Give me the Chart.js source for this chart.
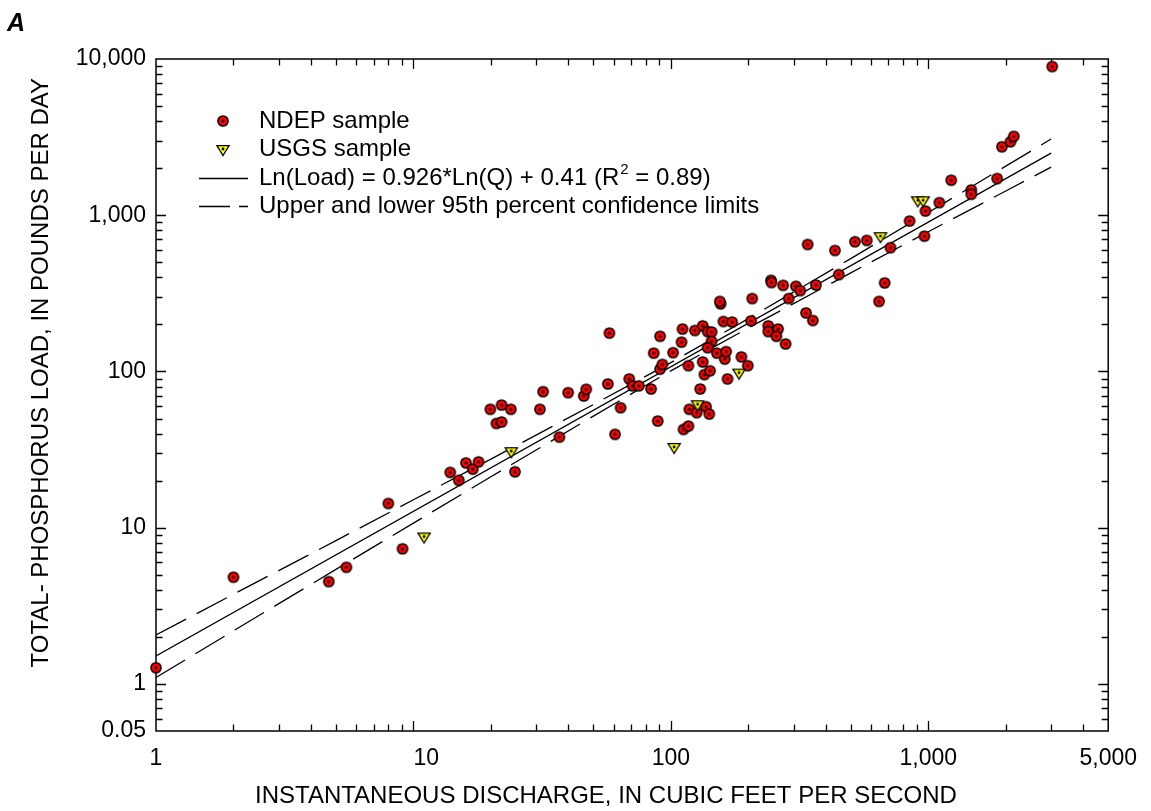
<!DOCTYPE html>
<html><head><meta charset="utf-8">
<script src="https://cdn.jsdelivr.net/npm/chart.js@4.4.0/dist/chart.umd.min.js"></script>
<style>html,body{margin:0;padding:0;background:#fff;}#wrap{width:1151px;height:811px;}</style>
</head><body>
<div id="wrap"><canvas id="c" width="1151" height="811"></canvas></div>
<script>
// ---- data ----
const ndepQ = [1.0, 2.0, 4.69, 5.49, 7.99, 9.07, 13.9, 15.0, 16.0, 17.0, 17.9, 24.8, 19.9, 22.0, 23.9, 21.0, 22.0,
  31.0, 31.9, 36.9, 39.9, 45.9, 46.9, 56.9, 57.7, 60.7, 63.8, 68.9, 71.0, 75.1, 83.8, 88.9, 85.8, 90.8, 90.8, 92.7,
  102, 110, 111, 112, 117, 117, 118, 124, 126, 130, 133, 133, 135, 137, 139, 142, 141, 144, 144, 139, 151, 156, 155,
  160, 162, 164, 166, 173, 188, 199, 207, 205, 239, 239, 261, 257, 279, 245, 246, 273, 287, 306, 318, 340, 366, 335,
  356, 434, 449, 519, 577, 713, 677, 644, 846, 975, 1104, 966, 1228, 1469, 1469, 1852, 1932, 2086, 2148, 3030];
const ndepLoad = [1.27, 4.82, 4.52, 5.58, 14.3, 7.33, 22.6, 20.1, 26.0, 23.7, 26.4, 22.8, 57.3, 61.0, 57.3, 46.5, 47.5,
  57.3, 74.3, 38.0, 73.2, 69.7, 76.9, 83.2, 176, 39.6, 58.6, 89.6, 80.9, 80.9, 77.3, 48.2, 131, 168, 103.5, 111,
  132, 154, 187, 42.6, 44.7, 109, 57.3, 183, 54.5, 77.3, 196, 115, 95.5, 59.5, 180, 101, 53.4, 179, 156, 142, 131, 271, 281,
  209, 120, 134, 89.6, 207, 124, 109, 293, 211, 196, 180, 187, 168, 150, 383, 371, 356, 293, 351, 329, 650, 358, 237,
  212, 595, 417, 677, 690, 620, 369, 281, 918, 1064, 1205, 735, 1675, 1452, 1362, 1718, 2742, 2952, 3199, 8950];
const usgsQ = [11.0, 24.0, 103, 127, 184, 652, 910, 955];
const usgsLoad = [8.79, 30.9, 32.9, 61.7, 98.4, 735, 1247, 1247];
const fitQ = [1, 3000];
const fitLoad = [1.51, 2500];
const bandQ = [1, 2, 5, 10, 20, 50, 100, 200, 500, 1000, 2000, 3000];
const upperLoad = [2.06, 3.75, 8.27, 15.1, 27.5, 61.4, 114, 218, 528, 1042, 2061, 3073];
const lowerLoad = [1.10, 2.19, 5.41, 10.7, 21.2, 51.8, 101, 190, 428, 784, 1430, 2032];
const xTickValues = [1, 10, 100, 1000, 5000];
const xTickLabels = ['1', '    10', '100', '1,000', '5,000'];
const yTickValues = [0.5, 1, 10, 100, 1000, 10000];
const yTickLabels = ['0.05', '1', '10', '100', '1,000', '10,000'];
const legendLabels = ['NDEP sample', 'USGS sample', 'Ln(Load) = 0.926*Ln(Q) + 0.41 (R', 'Upper and lower 95th percent confidence limits'];
const xTitle = 'INSTANTANEOUS DISCHARGE, IN CUBIC FEET PER SECOND';
const yTitle = 'TOTAL- PHOSPHORUS LOAD, IN POUNDS PER DAY';
const panelLabel = 'A';

const FONT = '"Liberation Sans", Arial, Helvetica, sans-serif';
Chart.defaults.font.family = FONT;
Chart.defaults.color = '#000';

function pairs(xs, ys) { return xs.map((x, i) => ({x: x, y: ys[i]})); }

function circleMarker() {
  const c = document.createElement('canvas'); c.width = 16; c.height = 16;
  const g = c.getContext('2d');
  g.beginPath(); g.arc(8, 8, 5.1, 0, Math.PI * 2);
  g.fillStyle = '#ff0000'; g.fill();
  g.lineWidth = 1.5; g.strokeStyle = '#000'; g.stroke();
  g.beginPath(); g.arc(8, 8, 1.5, 0, Math.PI * 2); g.fillStyle = '#000'; g.fill();
  return c;
}
function triMarker() {
  const c = document.createElement('canvas'); c.width = 16; c.height = 16;
  const g = c.getContext('2d');
  g.beginPath(); g.moveTo(1.9, 4.6); g.lineTo(14.1, 4.6); g.lineTo(8, 14.6); g.closePath();
  g.fillStyle = '#ffff00'; g.fill();
  g.lineWidth = 1.3; g.strokeStyle = '#000'; g.lineJoin = 'miter'; g.stroke();
  g.beginPath(); g.arc(8, 8, 1.4, 0, Math.PI * 2); g.fillStyle = '#000'; g.fill();
  return c;
}
const circImg = circleMarker();
const triImg = triMarker();

const xMinor = [], yMinor = [];
[1, 10, 100, 1000].forEach(d => { for (let k = 2; k <= 9; k++) { if (d * k < 5000) xMinor.push(d * k); } });
[0.1, 1, 10, 100, 1000].forEach(d => { for (let k = 2; k <= 9; k++) { const v = d * k; if (v > 0.5 && v < 10000) yMinor.push(v); } });

const framePlugin = {
  id: 'frame',
  beforeDatasetsDraw(chart) {
    const {ctx, chartArea: a, scales: {x, y}} = chart;
    ctx.save();
    ctx.strokeStyle = '#000';
    ctx.lineWidth = 1.5;
    ctx.strokeRect(a.left, a.top, a.right - a.left, a.bottom - a.top);
    ctx.lineWidth = 1.3;
    ctx.beginPath();
    const tick = (v, len, horiz) => {
      if (horiz) {
        const px = Math.round(x.getPixelForValue(v)) + 0.5;
        ctx.moveTo(px, a.bottom); ctx.lineTo(px, a.bottom - len);
        ctx.moveTo(px, a.top); ctx.lineTo(px, a.top + len);
      } else {
        const py = Math.round(y.getPixelForValue(v)) + 0.5;
        ctx.moveTo(a.left, py); ctx.lineTo(a.left + len, py);
        ctx.moveTo(a.right, py); ctx.lineTo(a.right - len, py);
      }
    };
    [10, 100, 1000].forEach(v => tick(v, 10, true));
    xMinor.forEach(v => tick(v, 6.5, true));
    [1, 10, 100, 1000].forEach(v => tick(v, 10, false));
    yMinor.forEach(v => tick(v, 6.5, false));
    ctx.stroke();
    ctx.restore();
  },
  afterDraw(chart) {
    const {ctx} = chart;
    ctx.save();
    ctx.fillStyle = '#000';
    ctx.font = 'italic bold 25px ' + FONT;
    ctx.textBaseline = 'alphabetic';
    ctx.fillText(panelLabel, 7, 31);
    // axis titles
    ctx.font = '24px ' + FONT;
    ctx.textAlign = 'left';
    ctx.fillText(xTitle, 255, 803);
    ctx.save();
    ctx.translate(48, 78);
    ctx.rotate(-Math.PI / 2);
    ctx.textAlign = 'right';
    ctx.fillText(yTitle, 0, 0);
    ctx.restore();
    // legend
    const lx = 199, lx2 = 248, tx = 259;
    const rows = [121, 149, 178, 206];
    ctx.drawImage(circImg, 223 - 8, rows[0] - 8);
    ctx.drawImage(triImg, 223 - 8, rows[1] - 8);
    ctx.strokeStyle = '#000'; ctx.lineWidth = 1.3;
    ctx.beginPath(); ctx.moveTo(lx, rows[2] + 0.5); ctx.lineTo(lx2, rows[2] + 0.5); ctx.stroke();
    ctx.setLineDash([31, 9]);
    ctx.beginPath(); ctx.moveTo(lx, rows[3] + 0.5); ctx.lineTo(lx2, rows[3] + 0.5); ctx.stroke();
    ctx.setLineDash([]);
    ctx.font = '24px ' + FONT;
    ctx.textBaseline = 'middle';
    ctx.textAlign = 'left';
    ctx.fillText(legendLabels[0], tx, rows[0]);
    ctx.fillText(legendLabels[1], tx, rows[1]);
    ctx.fillText(legendLabels[2], tx, rows[2]);
    const w = ctx.measureText(legendLabels[2]).width;
    ctx.font = '15px ' + FONT;
    ctx.fillText('2', tx + w + 1, rows[2] - 8);
    const w2 = ctx.measureText('2').width;
    ctx.font = '24px ' + FONT;
    ctx.fillText(' = 0.89)', tx + w + w2 + 1, rows[2]);
    ctx.fillText(legendLabels[3], tx, rows[3]);
    ctx.restore();
  }
};

new Chart(document.getElementById('c'), {
  type: 'scatter',
  data: {
    datasets: [
      {label: 'USGS sample', data: pairs(usgsQ, usgsLoad), pointStyle: triImg, order: 0, clip: false},
      {label: 'NDEP sample', data: pairs(ndepQ, ndepLoad), pointStyle: circImg, order: 1, clip: false},
      {label: 'Regression', data: pairs(fitQ, fitLoad), showLine: true, pointRadius: 0, borderColor: '#000', borderWidth: 1.3, order: 2},
      {label: 'Upper 95th percent confidence limit', data: pairs(bandQ, upperLoad), showLine: true, pointRadius: 0, borderColor: '#000', borderWidth: 1.3, borderDash: [34, 12], order: 2},
      {label: 'Lower 95th percent confidence limit', data: pairs(bandQ, lowerLoad), showLine: true, pointRadius: 0, borderColor: '#000', borderWidth: 1.3, borderDash: [34, 12], order: 2}
    ]
  },
  options: {
    responsive: false,
    animation: false,
    devicePixelRatio: 1,
    layout: {padding: {top: 59, right: 35, left: 0, bottom: 0}},
    plugins: {legend: {display: false}, tooltip: {enabled: false}},
    elements: {point: {radius: 6, hoverRadius: 6}, line: {tension: 0}},
    scales: {
      x: {
        type: 'logarithmic', min: 1, max: 5000,
        grid: {display: false, drawTicks: false},
        border: {display: false},
        afterBuildTicks: s => { s.ticks = xTickValues.map(v => ({value: v})); },
        afterFit: s => { s.height = 80; },
        ticks: {autoSkip: false, maxRotation: 0, padding: 14, font: {size: 23},
          callback: (v) => { const i = xTickValues.indexOf(v); return i >= 0 ? xTickLabels[i] : ''; }},
        title: {display: false}
      },
      y: {
        type: 'logarithmic', min: 0.5, max: 10000,
        grid: {display: false, drawTicks: false},
        border: {display: false},
        afterBuildTicks: s => { s.ticks = yTickValues.map(v => ({value: v})); },
        afterFit: s => { s.width = 156; },
        ticks: {autoSkip: false, padding: 10, font: {size: 23},
          callback: (v) => { const i = yTickValues.indexOf(v); return i >= 0 ? yTickLabels[i] : ''; }},
        title: {display: false}
      }
    }
  },
  plugins: [framePlugin]
});
</script>
</body></html>
